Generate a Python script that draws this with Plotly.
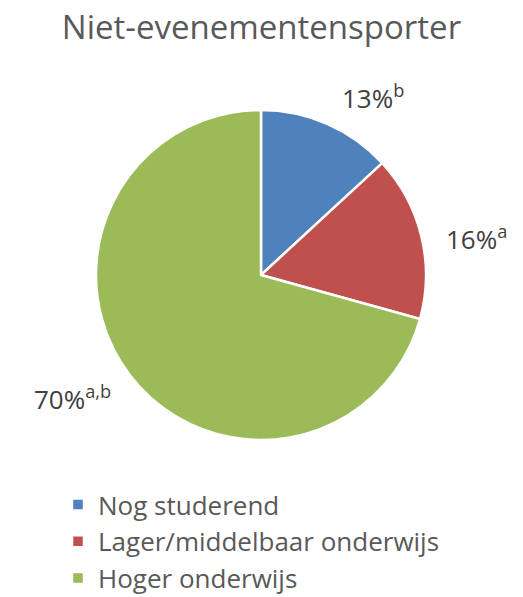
import plotly.graph_objects as go

# Education level of non-event athletes
categories = ["Nog studerend", "Lager/middelbaar onderwijs", "Hoger onderwijs"]
values = [13, 16, 70]
sig_marks = ["b", "a", "a,b"]
colors = ["#4F81BD", "#C0504D", "#9BBB59"]

W, H = 523, 597
FONT = "Open Sans"

fig = go.Figure(
    go.Pie(
        labels=categories,
        values=values,
        sort=False,
        direction="clockwise",
        rotation=0,
        marker=dict(colors=colors, line=dict(color="white", width=2.5)),
        textinfo="none",
        hoverinfo="label+percent",
        domain=dict(x=[96 / W, 426 / W], y=[1 - 440 / H, 1 - 110 / H]),
    )
)

# value labels with significance superscripts
label_pos = [(373, 97), (476, 238), (72, 398)]
for v, s, (px, py) in zip(values, sig_marks, label_pos):
    fig.add_annotation(
        x=px / W, y=1 - py / H, xref="paper", yref="paper",
        text=f"{v}%<sup>{s}</sup>", showarrow=False,
        font=dict(family=FONT, size=26, color="#404040"),
        xanchor="center", yanchor="middle",
    )

fig.update_layout(
    width=W, height=H,
    margin=dict(l=0, r=0, t=0, b=0, autoexpand=False),
    paper_bgcolor="white",
    title=dict(
        text="Niet-evenementensporter",
        x=0.5, xanchor="center", y=1 - 27 / H, yanchor="middle",
        font=dict(family=FONT, size=33, color="#595959"),
    ),
    legend=dict(
        x=58 / W, y=1 - 481 / H, xanchor="left", yanchor="top",
        font=dict(family=FONT, size=26, color="#595959"),
        itemwidth=30, tracegroupgap=0,
    ),
    showlegend=True,
)

fig.write_html("out.html")
